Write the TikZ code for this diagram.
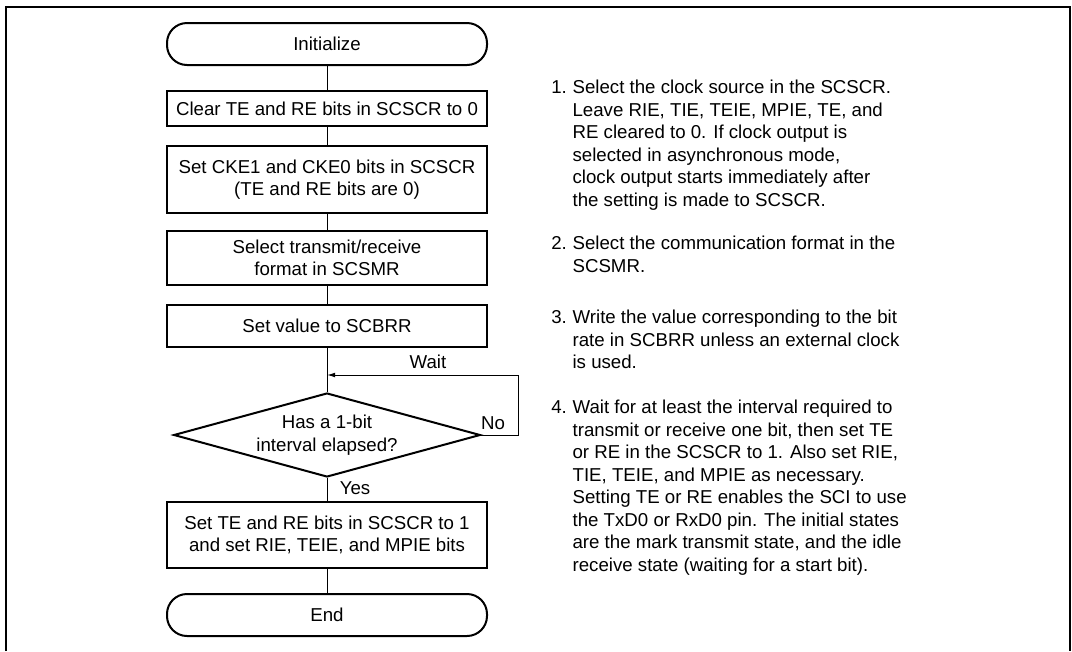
\documentclass[tikz,border=0pt]{standalone}
\usepackage{fontspec}
\setmainfont{Liberation Sans}
\usetikzlibrary{arrows.meta, positioning, shapes.geometric}

\newcommand{\chartfont}{\fontsize{14pt}{16.9pt}\selectfont}
\tikzset{
  stepbox/.style={draw, line width=1.5pt, minimum width=240pt, inner sep=2pt, align=center, font=\chartfont},
  endbox/.style={stepbox, rounded corners=15pt, minimum height=31.5pt},
  testbox/.style={draw, diamond, line width=1.5pt, aspect=3.65, minimum width=230pt, minimum height=63pt, inner sep=0pt, align=center, font=\chartfont},
  link/.style={line width=0.75pt},
  tag/.style={inner sep=0pt, font=\chartfont},
  note/.style={anchor=base west, inner sep=0pt, font=\chartfont},
}

\begin{document}
\begin{tikzpicture}[x=0.75pt, y=-0.75pt]
    \useasboundingbox (0,0) rectangle (1072,651);
    % Frame (open at the bottom)
    \draw[line width=1.5pt] (6,651) -- (6,7) -- (1070,7) -- (1070,651);

    % Flow chart
    \node[endbox] (init) at (327,44) {Initialize};
    \node[stepbox, minimum height=26.25pt] (clear) at (327,108.5) {Clear TE and RE bits in SCSCR to 0};
    \node[stepbox, minimum height=50.25pt] (cke) at (327,179.5) {Set CKE1 and CKE0 bits in SCSCR\\(TE and RE bits are 0)};
    \node[stepbox, minimum height=40.5pt] (fmt) at (327,258) {Select transmit/receive\\format in SCSMR};
    \node[stepbox, minimum height=31.5pt] (brr) at (327,326) {Set value to SCBRR};
    \node[testbox] (elapsed) at (327,435) {Has a 1-bit\\interval elapsed?};
    \node[stepbox, minimum height=49.5pt] (setbits) at (327,535) {Set TE and RE bits in SCSCR to 1\\and set RIE, TEIE, and MPIE bits};
    \node[endbox] (done) at (327,615) {End};

    \draw[link] (init) -- (clear);
    \draw[link] (clear) -- (cke);
    \draw[link] (cke) -- (fmt);
    \draw[link] (fmt) -- (brr);
    \draw[link] (brr) -- (elapsed);
    \draw[link] (elapsed) -- (setbits);
    \draw[link] (setbits) -- (done);

    % Wait loop
    \coordinate (loopturn) at (518,375);
    \coordinate (back) at (327,375);
    \draw[link, -{Latex[length=6pt, width=3.5pt]}] (elapsed.east) -| (loopturn) -- (back);
    \node[tag] (waitlbl) at (428,362) {Wait};
    \node[tag] (nolbl) at (493,423) {No};
    \node[tag] (yeslbl) at (355,488) {Yes};

    % Notes
    \node[note] (note1) at (551,93.5) {\begin{tabular}[t]{@{}p{16pt}@{}l@{}}
      1. & Select the clock source in the SCSCR.\\
         & Leave RIE, TIE, TEIE, MPIE, TE, and\\
         & RE cleared to 0. If clock output is\\
         & selected in asynchronous mode,\\
         & clock output starts immediately after\\
         & the setting is made to SCSCR.
    \end{tabular}};
    \node[note] (note2) at (551,249.5) {\begin{tabular}[t]{@{}p{16pt}@{}l@{}}
      2. & Select the communication format in the\\
         & SCSMR.
    \end{tabular}};
    \node[note] (note3) at (551,323.5) {\begin{tabular}[t]{@{}p{16pt}@{}l@{}}
      3. & Write the value corresponding to the bit\\
         & rate in SCBRR unless an external clock\\
         & is used.
    \end{tabular}};
    \node[note] (note4) at (551,413.5) {\begin{tabular}[t]{@{}p{16pt}@{}l@{}}
      4. & Wait for at least the interval required to\\
         & transmit or receive one bit, then set TE\\
         & or RE in the SCSCR to 1. Also set RIE,\\
         & TIE, TEIE, and MPIE as necessary.\\
         & Setting TE or RE enables the SCI to use\\
         & the TxD0 or RxD0 pin. The initial states\\
         & are the mark transmit state, and the idle\\
         & receive state (waiting for a start bit).
    \end{tabular}};
\end{tikzpicture}
\end{document}
